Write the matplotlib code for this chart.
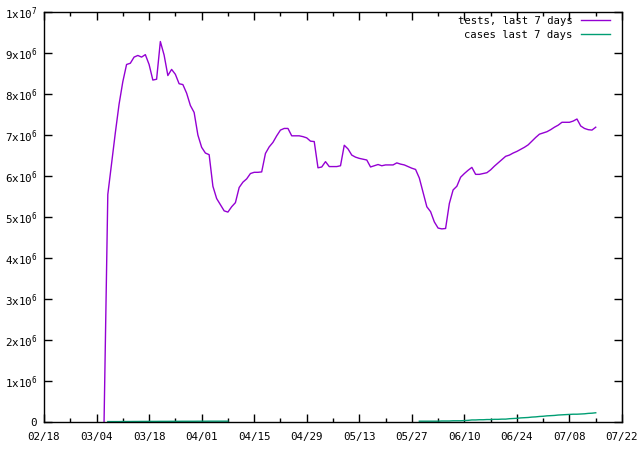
import numpy as np
import pandas as pd
import matplotlib
matplotlib.use("Agg")
import matplotlib.pyplot as plt
import matplotlib.dates as mdates

# tests over last 7 days, daily from 2021-03-06 (millions)
tests_start = "2021-03-06"
tests = [0.0, 5.55, 6.3, 7.05, 7.75, 8.3, 8.72, 8.75, 8.9, 8.94,
         8.9, 8.96, 8.72, 8.34, 8.36, 9.28, 8.95, 8.45, 8.6, 8.48,
         8.25, 8.23, 8.02, 7.72, 7.55, 7.0, 6.7, 6.56, 6.52, 5.75,
         5.45, 5.3, 5.15, 5.12, 5.25, 5.35, 5.72, 5.85, 5.93, 6.06,
         6.09, 6.09, 6.1, 6.55, 6.71, 6.82, 6.98, 7.12, 7.16, 7.16,
         6.98, 6.98, 6.98, 6.96, 6.93, 6.85, 6.84, 6.2, 6.22, 6.35,
         6.23, 6.23, 6.23, 6.25, 6.75, 6.66, 6.51, 6.46, 6.43, 6.41,
         6.39, 6.22, 6.25, 6.28, 6.25, 6.27, 6.27, 6.27, 6.32, 6.29,
         6.27, 6.23, 6.19, 6.16, 5.95, 5.6, 5.25, 5.13, 4.88, 4.73,
         4.71, 4.72, 5.33, 5.66, 5.75, 5.97, 6.06, 6.14, 6.21, 6.04,
         6.04, 6.06, 6.08, 6.15, 6.24, 6.32, 6.4, 6.48, 6.51, 6.56,
         6.6, 6.65, 6.7, 6.76, 6.85, 6.94, 7.02, 7.05, 7.08, 7.13,
         7.19, 7.24, 7.31, 7.31, 7.31, 7.34, 7.39, 7.22, 7.16, 7.13,
         7.12, 7.19]

# cases over last 7 days (millions), two stretches with data
cases1_start = "2021-03-07"
cases1 = [0.01, 0.01, 0.01, 0.01, 0.012, 0.012, 0.012, 0.013, 0.013, 0.014,
          0.014, 0.015, 0.015, 0.015, 0.016, 0.016, 0.016, 0.017, 0.017, 0.017,
          0.018, 0.018, 0.018, 0.018, 0.019, 0.019, 0.019, 0.02, 0.02, 0.02,
          0.02, 0.02, 0.02]
cases2_start = "2021-05-29"
cases2 = [0.02, 0.02, 0.02, 0.02, 0.02, 0.02, 0.025, 0.025, 0.025, 0.03,
          0.03, 0.03, 0.035, 0.04, 0.05, 0.05, 0.055, 0.055, 0.06, 0.06,
          0.065, 0.065, 0.07, 0.07, 0.08, 0.085, 0.09, 0.1, 0.105, 0.11,
          0.12, 0.125, 0.135, 0.14, 0.15, 0.155, 0.16, 0.17, 0.175, 0.18,
          0.185, 0.19, 0.19, 0.195, 0.2, 0.21, 0.215, 0.225]

tests_dates = pd.date_range(tests_start, periods=len(tests), freq="D")
c1_dates = pd.date_range(cases1_start, periods=len(cases1), freq="D")
c2_dates = pd.date_range(cases2_start, periods=len(cases2), freq="D")

plt.rcParams["font.family"] = ["DejaVu Sans Mono"]
plt.rcParams["font.size"] = 7.8
plt.rcParams["mathtext.fontset"] = "custom"
plt.rcParams["mathtext.rm"] = "DejaVu Sans Mono"

fig = plt.figure(figsize=(6.4, 4.5), dpi=100)
ax = fig.add_axes([44 / 640, 1 - 422 / 450, 578 / 640, 410 / 450])

ax.plot(tests_dates, np.array(tests) * 1e6, color="#9400D3", lw=1.0,
        label="tests, last 7 days")
ax.plot(c1_dates, np.array(cases1) * 1e6, color="#009E73", lw=1.0,
        label="cases last 7 days")
ax.plot(c2_dates, np.array(cases2) * 1e6, color="#009E73", lw=1.0)

ax.set_xlim(pd.Timestamp("2021-02-18"), pd.Timestamp("2021-07-22"))
ax.set_ylim(0, 1e7)

major = pd.date_range("2021-02-18", "2021-07-22", freq="14D")
minor = pd.date_range("2021-02-25", "2021-07-22", freq="14D")
ax.set_xticks(major)
ax.set_xticks(minor, minor=True)
ax.xaxis.set_major_formatter(mdates.DateFormatter("%m/%d"))

yt = np.arange(0, 11) * 1e6
ylabels = ["0"] + ["%dx10$^{6}$" % i for i in range(1, 10)] + ["1x10$^{7}$"]
ax.set_yticks(yt)
ax.set_yticklabels(ylabels)

ax.tick_params(which="both", direction="in", top=True, right=True, width=1.0)
ax.tick_params(axis="x", pad=7)
ax.tick_params(axis="y", pad=5)
ax.tick_params(which="major", length=6)
ax.tick_params(which="minor", length=3)
for s in ax.spines.values():
    s.set_linewidth(1.0)

ax.legend(loc="upper right", bbox_to_anchor=(0.98, 0.99), frameon=False,
          markerfirst=False, handlelength=2.8, handletextpad=0.8,
          labelspacing=0.35, borderaxespad=0, borderpad=0, fontsize=7.6)

fig.savefig("out.png", dpi=100)
